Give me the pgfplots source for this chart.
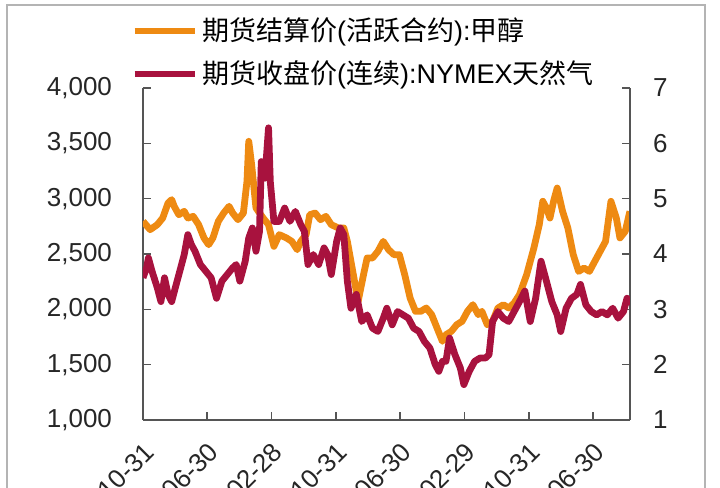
\documentclass[border=0pt]{standalone}
\usepackage{fontspec}
\setmainfont{Liberation Sans}
\newfontfamily\cjk{Noto Sans CJK SC}
\usepackage{pgfplots}
\pgfplotsset{compat=1.18}
\definecolor{mo}{HTML}{EE8A12}
\definecolor{ng}{HTML}{A8123E}
\definecolor{axg}{HTML}{555555}
\definecolor{frm}{HTML}{B4B4B4}
\newcommand{\lt}[1]{{\rmfamily #1}}
\begin{document}
\begin{tikzpicture}
\path[use as bounding box, clip] (-71.5pt,-34pt) rectangle (288.5pt,210pt);
\draw[frm, line width=0.8pt] (-68pt,-60pt) -- (-68pt,207.5pt) -- (281pt,207.5pt) -- (281pt,-60pt);
\begin{axis}[
  at={(0,0)}, anchor=south west, scale only axis,
  width=243.5pt, height=166pt,
  xmin=0, xmax=60.6, ymin=1000, ymax=4000,
  axis x line*=bottom, axis y line*=left,
  ytick={1000,1500,...,4000},
  xtick={0,8,...,56},
  xticklabels={10-31,06-30,02-28,10-31,06-30,02-29,10-31,06-30},
  tick align=inside, major tick length=4pt,
  axis line style={axg, line width=0.8pt},
  every tick/.style={axg, line width=0.8pt},
  tick label style={font=\fontsize{13}{15}\selectfont, text=black!85},
  yticklabel style={anchor=east, xshift=-12pt},
  xticklabel style={rotate=45, anchor=east, xshift=-4pt, yshift=-12pt},
  scaled y ticks=false,
  /pgf/number format/assume math mode=true,
  /pgf/number format/fixed,
  /pgf/number format/1000 sep={,},
]
\addplot[mo, line width=3.4pt, line join=round] coordinates {
(0.00,2795)(0.89,2720)(1.78,2765)(2.45,2825)(3.12,2961)(3.57,2991)(3.88,2931)(4.46,2855)(5.13,2886)(5.58,2825)(6.25,2840)(6.92,2765)(7.59,2645)(8.17,2584)(8.70,2645)(9.37,2795)(10.04,2870)(10.71,2931)(11.16,2870)(11.82,2810)(12.49,2870)(12.94,3157)(13.16,3518)(13.52,3307)(14.06,2916)(14.95,2825)(15.62,2765)(16.29,2569)(16.96,2675)(17.85,2645)(18.52,2614)(19.19,2539)(19.63,2614)(20.30,2675)(20.75,2855)(21.42,2870)(22.09,2810)(22.76,2840)(23.43,2765)(24.32,2735)(24.99,2735)(25.43,2614)(26.10,2343)(26.77,2072)(27.44,2313)(27.89,2464)(28.56,2464)(29.23,2524)(29.90,2614)(30.56,2539)(31.23,2494)(31.90,2494)(32.57,2313)(33.24,2102)(33.91,1982)(34.58,1982)(35.25,2012)(35.92,1952)(36.59,1831)(37.26,1711)(37.70,1771)(38.37,1801)(39.04,1861)(39.71,1892)(40.38,1982)(41.05,2042)(41.72,1952)(42.17,1982)(42.84,1861)(43.50,1892)(44.17,2012)(44.84,2042)(45.51,2012)(46.18,2057)(46.85,2133)(47.74,2313)(48.64,2554)(49.31,2765)(49.75,2976)(50.20,2916)(50.64,2825)(51.09,2976)(51.54,3096)(52.21,2886)(52.87,2735)(53.54,2494)(54.21,2343)(54.88,2373)(55.55,2343)(56.22,2434)(56.89,2524)(57.56,2614)(58.23,2976)(58.90,2825)(59.35,2645)(60.01,2705)(60.59,2886)
};
\end{axis}
\begin{axis}[
  at={(0,0)}, anchor=south west, scale only axis,
  width=243.5pt, height=166pt,
  xmin=0, xmax=60.6, ymin=1, ymax=7,
  axis x line=none, axis y line*=right,
  ytick={1,2,...,7},
  tick align=inside, major tick length=4pt,
  axis line style={axg, line width=0.8pt},
  every tick/.style={axg, line width=0.8pt},
  tick label style={font=\fontsize{13}{15}\selectfont, text=black!85},
  yticklabel style={anchor=west, xshift=8pt},
  /pgf/number format/assume math mode=true,
  legend style={draw=none, fill=none, at={(axis description cs:-0.025,0.99)}, anchor=south west,
    font=\cjk\fontsize{13.5}{15}\selectfont, row sep=4.5pt, inner sep=0pt},
  legend cell align=left,
  legend image code/.code={\draw[#1] (0pt,0pt) -- (30pt,0pt);},
]
\addlegendimage{mo, line width=2.6pt}
\addplot[ng, line width=3.4pt, line join=round] coordinates {
(0.00,3.57)(0.45,3.75)(0.67,3.93)(1.12,3.69)(1.78,3.39)(2.23,3.14)(2.68,3.57)(3.12,3.27)(3.57,3.14)(4.02,3.39)(4.69,3.75)(5.13,3.99)(5.58,4.35)(6.02,4.17)(6.47,4.05)(7.14,3.81)(7.81,3.69)(8.48,3.57)(9.15,3.20)(9.82,3.51)(10.49,3.63)(11.16,3.75)(11.60,3.81)(12.05,3.51)(12.72,3.87)(13.16,4.29)(13.61,4.47)(14.06,4.05)(14.50,4.41)(14.72,5.67)(15.17,5.37)(15.62,6.28)(15.84,5.31)(16.29,4.59)(16.96,4.59)(17.63,4.83)(18.29,4.59)(18.96,4.77)(19.63,4.53)(20.08,4.41)(20.53,3.81)(21.19,3.99)(21.86,3.81)(22.53,4.11)(22.98,3.99)(23.43,3.63)(24.10,4.23)(24.54,4.47)(24.99,4.35)(25.43,3.51)(25.88,3.02)(26.55,3.27)(27.22,2.78)(27.89,2.90)(28.56,2.66)(29.23,2.60)(29.90,2.84)(30.34,3.02)(31.01,2.72)(31.68,2.96)(32.35,2.90)(33.02,2.84)(33.68,2.66)(34.35,2.60)(35.02,2.42)(35.70,2.30)(36.37,2.00)(36.81,1.88)(37.26,2.06)(37.70,2.06)(38.15,2.48)(38.82,2.18)(39.49,1.94)(39.93,1.64)(40.60,1.88)(41.27,2.06)(41.94,2.12)(42.61,2.12)(43.06,2.18)(43.50,2.78)(44.17,2.96)(44.84,2.84)(45.51,2.78)(46.18,2.96)(46.85,3.14)(47.52,3.33)(48.19,2.78)(48.86,3.20)(49.53,3.87)(50.20,3.51)(50.87,3.14)(51.54,2.90)(51.98,2.60)(52.65,3.02)(53.32,3.20)(53.99,3.27)(54.44,3.45)(55.11,3.08)(55.78,2.96)(56.45,2.90)(57.11,2.96)(57.78,2.90)(58.45,3.02)(59.12,2.84)(59.79,2.96)(60.23,3.20)(60.60,3.08)
};
\legend{{期货结算价\lt{(}活跃合约\lt{):}甲醇},{期货收盘价\lt{(}连续\lt{):NYMEX}天然气}}
\end{axis}
\end{tikzpicture}
\end{document}
